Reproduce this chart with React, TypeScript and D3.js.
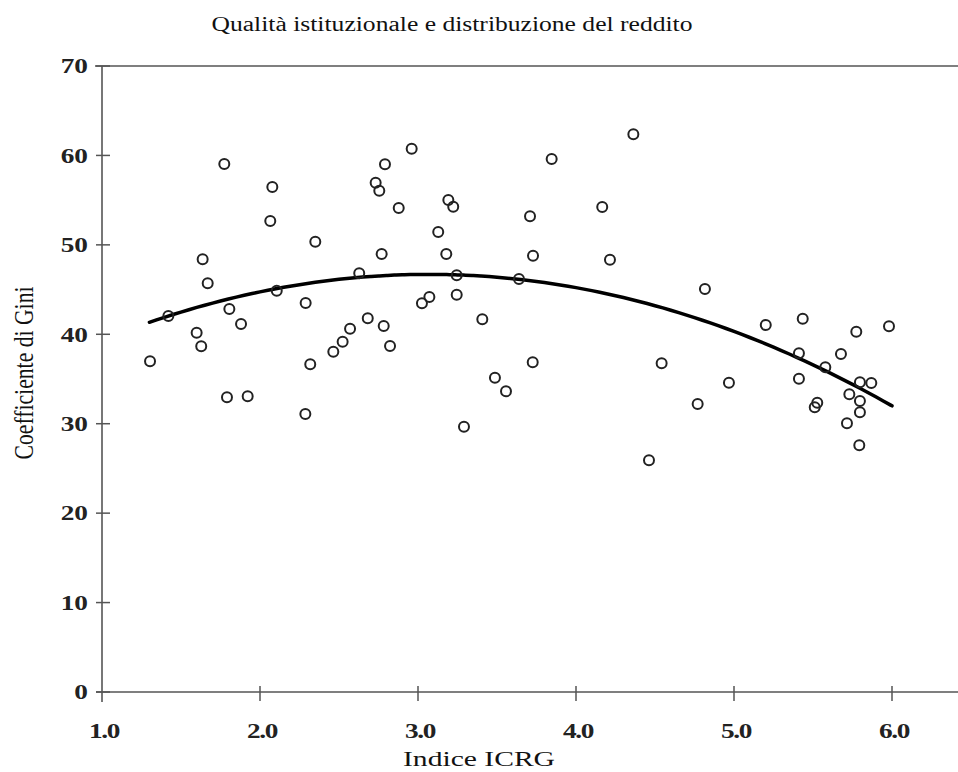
import React from "react";
import * as d3 from "d3";

const icrg = [
  1.304, 1.42, 1.774, 1.637, 1.669, 1.599, 1.628, 1.806, 1.88, 1.791, 1.922,
  2.078, 2.065, 2.106, 2.289, 2.318, 2.287, 2.35, 2.464, 2.523, 2.57, 2.628,
  2.682, 2.732, 2.755, 2.791, 2.77, 2.783, 2.823, 2.878, 2.96, 3.025, 3.072,
  3.128, 3.179, 3.192, 3.223, 3.245, 3.245, 3.407, 3.291, 3.487, 3.557, 3.639,
  3.709, 3.728, 3.726, 3.846, 4.166, 4.215, 4.363, 4.462, 4.542, 4.77, 4.816,
  4.968, 5.201, 5.435, 5.774, 5.981, 5.411, 5.677, 5.578, 5.411, 5.797, 5.869,
  5.73, 5.797, 5.527, 5.511, 5.797, 5.715, 5.793,
];
const gini = [
  36.98, 42.04, 59.04, 48.38, 45.7, 40.18, 38.66, 42.83, 41.15, 32.95, 33.06,
  56.47, 52.67, 44.87, 43.5, 36.64, 31.09, 50.35, 38.05, 39.17, 40.62, 46.82,
  41.79, 56.95, 56.06, 59.01, 48.98, 40.93, 38.69, 54.12, 60.75, 43.46, 44.17,
  51.44, 48.98, 55.01, 54.27, 46.59, 44.43, 41.67, 29.67, 35.14, 33.62, 46.18,
  53.19, 48.79, 36.88, 59.6, 54.23, 48.34, 62.36, 25.91, 36.75, 32.2, 45.06,
  34.59, 41.04, 41.74, 40.29, 40.9, 37.87, 37.8, 36.31, 35.03, 34.63, 34.55,
  33.29, 32.54, 32.35, 31.84, 31.28, 30.05, 27.59,
];
// quadratic fit: gini = a + b*x + c*x^2
const fitCoef = [30.57, 10.51, -1.712];
const fitRange = [1.3, 6.0];

const xTicks = [1, 2, 3, 4, 5, 6];
const yTicks = [0, 10, 20, 30, 40, 50, 60, 70];

const title = "Qualità istituzionale e distribuzione del reddito";
const xLabel = "Indice ICRG";
const yLabel = "Coefficiente di Gini";

const W = 958;
const H = 772;
const SX = 1.3;

export default function App() {
  const x = d3.scaleLinear().domain([1, 6]).range([102, 892]);
  const y = d3.scaleLinear().domain([0, 70]).range([692, 66]);

  const fitPts = d3.range(fitRange[0], fitRange[1] + 0.0001, 0.05).map((v) => [
    v,
    fitCoef[0] + fitCoef[1] * v + fitCoef[2] * v * v,
  ]);
  const line = d3
    .line<number[]>()
    .x((d) => x(d[0]))
    .y((d) => y(d[1]))
    .curve(d3.curveBasis);

  const serif = "'Liberation Serif', 'Times New Roman', serif";
  const axisColor = "#555";

  return (
    <svg
      width={W}
      height={H}
      style={{ position: "absolute", left: 0, top: 0, background: "#fff" }}
    >
      <rect x={0} y={0} width={W} height={H} fill="#fff" />
      {/* title */}
      <text
        x={452}
        y={31}
        textAnchor="middle"
        fontFamily={serif}
        fontSize={20}
        fill="#111"
        textLength={481}
        lengthAdjust="spacingAndGlyphs"
      >
        {title}
      </text>

      {/* axes */}
      <line x1={95} x2={W} y1={y(70)} y2={y(70)} stroke={axisColor} strokeWidth={1.5} />
      <line x1={96} x2={W} y1={y(0)} y2={y(0)} stroke={axisColor} strokeWidth={1.5} />
      <line x1={x(1)} x2={x(1)} y1={y(70)} y2={y(0) + 10} stroke={axisColor} strokeWidth={1.6} />

      {yTicks.map((t) => (
        <g key={"yt" + t}>
          <line x1={96} x2={110} y1={y(t)} y2={y(t)} stroke={axisColor} strokeWidth={1.5} />
          <g transform={`translate(88,${y(t)}) scale(${SX},1)`}>
            <text
              textAnchor="end"
              dominantBaseline="central"
              fontFamily={serif}
              fontSize={21}
              fontWeight="bold"
              fill="#222"
            >
              {t}
            </text>
          </g>
        </g>
      ))}

      {xTicks.map((t) => (
        <g key={"xt" + t}>
          {t > 1 && (
            <line x1={x(t)} x2={x(t)} y1={y(0) - 6} y2={y(0) + 9} stroke={axisColor} strokeWidth={1.5} />
          )}
          <g transform={`translate(${x(t) + 2},738) scale(${SX},1)`}>
            <text
              textAnchor="middle"
              fontFamily={serif}
              fontSize={21}
              fontWeight="bold"
              fill="#222"
              letterSpacing={-1}
            >
              {d3.format(".1f")(t)}
            </text>
          </g>
        </g>
      ))}

      {/* axis labels */}
      <text
        x={479}
        y={766}
        textAnchor="middle"
        fontFamily={serif}
        fontSize={20}
        fill="#111"
        textLength={152}
        lengthAdjust="spacingAndGlyphs"
      >
        {xLabel}
      </text>
      <g transform={`translate(33,373) scale(${SX},1) rotate(-90)`}>
        <text
          textAnchor="middle"
          fontFamily={serif}
          fontSize={21}
          fill="#111"
          textLength={173}
          lengthAdjust="spacingAndGlyphs"
        >
          {yLabel}
        </text>
      </g>

      {/* fitted curve */}
      <path d={line(fitPts) || ""} fill="none" stroke="#000" strokeWidth={3.5} strokeLinecap="round" />

      {/* points */}
      {icrg.map((v, i) => (
        <circle
          key={"p" + i}
          cx={x(v)}
          cy={y(gini[i])}
          r={5}
          fill="none"
          stroke="#222"
          strokeWidth={2}
        />
      ))}
    </svg>
  );
}
